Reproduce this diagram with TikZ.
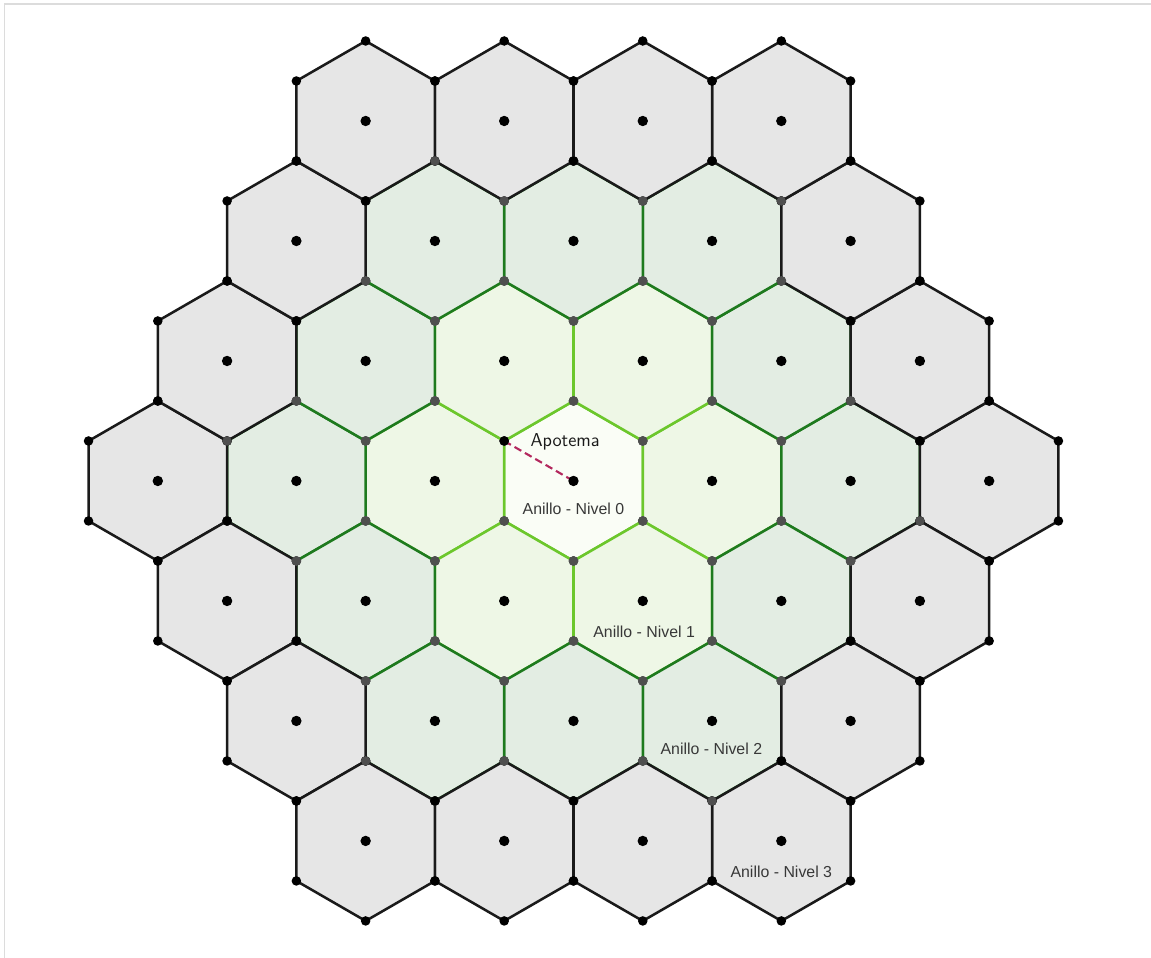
\documentclass[tikz,border=0pt]{standalone}
\usepackage{fontspec}
\newfontfamily\levelfont{Liberation Sans}
\definecolor{cellink}{HTML}{1A1A1A}
\definecolor{cornergrey}{HTML}{4F4F4F}
\definecolor{framegrey}{HTML}{DCDCDC}
\definecolor{ringzerofill}{HTML}{FAFDF6}
\definecolor{ringonefill}{HTML}{EEF7E6}
\definecolor{ringoneedge}{HTML}{6CC72C}
\definecolor{ringtwofill}{HTML}{E3EDE3}
\definecolor{ringtwoedge}{HTML}{1E7A1E}
\definecolor{ringthreefill}{HTML}{E6E6E6}
\definecolor{apothemred}{HTML}{B3285E}
\newcommand{\hexpath}{(0,1) -- (1,0.5) -- (1,-0.5) -- (0,-1) -- (-1,-0.5) -- (-1,0.5) -- cycle}
\newcommand{\hexcorners}{(0,1) circle (3.4pt) (1,0.5) circle (3.4pt) (1,-0.5) circle (3.4pt)
  (0,-1) circle (3.4pt) (-1,-0.5) circle (3.4pt) (-1,0.5) circle (3.4pt)}
\newcommand{\ringzero}{(0,0)}
\newcommand{\ringone}{(2,0),(-2,0),(1,1.5),(-1,1.5),(1,-1.5),(-1,-1.5)}
\newcommand{\ringtwo}{(4,0),(-4,0),(3,1.5),(-3,1.5),(3,-1.5),(-3,-1.5),(2,3),(0,3),(-2,3),(2,-3),(0,-3),(-2,-3)}
\newcommand{\ringthree}{(6,0),(-6,0),(5,1.5),(-5,1.5),(5,-1.5),(-5,-1.5),(4,3),(-4,3),(4,-3),(-4,-3),(3,4.5),(1,4.5),(-1,4.5),(-3,4.5),(3,-4.5),(1,-4.5),(-1,-4.5),(-3,-4.5)}
%% interior corners that are shown as free (black) points
\newcommand{\freecorners}{(0,4),(2,4),(-3,3.5),(-4,2),(4,2),(-1,0.5),(5,0.5),(-5,-0.5),(-4,-2),(4,-2),(3,-3.5),(-2,-4),(0,-4)}

\begin{document}
\begin{tikzpicture}[x=1.7321cm, y=2cm,
  cell/.style={line width=1.8pt, line join=round},
  cellzero/.style={cell, fill=ringzerofill, draw=ringoneedge},
  cellone/.style={cell, fill=ringonefill, draw=ringoneedge},
  celltwo/.style={cell, fill=ringtwofill, draw=ringtwoedge},
  cellthree/.style={cell, fill=ringthreefill, draw=cellink},
  levellabel/.style={text=black!78, font=\levelfont\fontsize{11.3}{13}\selectfont, inner sep=1pt},
  apotemalabel/.style={text=black!90, font=\sffamily\fontsize{13.3}{16}\selectfont, inner sep=1pt},
  apothem/.style={apothemred, line width=1.5pt, dash pattern=on 5.5pt off 3pt}]

  \useasboundingbox (-8.278,-5.9625) rectangle (8.336,6.0125);
  \draw[framegrey, line width=1.4pt] (-8.213,-5.9625) -- (-8.213,5.9625) -- (8.336,5.9625);

  %% cells, from the centre outwards
  \foreach \cellpos in \ringzero {\path[cellzero, shift={\cellpos}] \hexpath;}
  \foreach \cellpos in \ringone {\path[cellone, shift={\cellpos}] \hexpath;}
  \foreach \cellpos in \ringtwo {\path[celltwo, shift={\cellpos}] \hexpath;}
  \foreach \cellpos in \ringthree {\path[cellthree, shift={\cellpos}] \hexpath;}

  %% apothem
  \coordinate (apocorner) at (-1,0.5);
  \coordinate (apocentre) at (0,0);
  \draw[apothem] (apocorner) -- (apocentre);

  %% corner points
  \foreach \cellpos in \ringthree {\fill[black, shift={\cellpos}] \hexcorners;}
  \foreach \cellpos in \ringtwo {\fill[cornergrey, shift={\cellpos}] \hexcorners;}
  \foreach \cellpos in \ringone {\fill[cornergrey, shift={\cellpos}] \hexcorners;}
  \fill[cornergrey] \hexcorners;
  \foreach \cellpos in \freecorners {\fill[black] \cellpos circle (3.4pt);}

  %% centre points
  \foreach \cellpos in \ringthree {\fill[black] \cellpos circle (3.7pt);}
  \foreach \cellpos in \ringtwo {\fill[black] \cellpos circle (3.7pt);}
  \foreach \cellpos in \ringone {\fill[black] \cellpos circle (3.7pt);}
  \fill[black] (0,0) circle (3.7pt);

  %% labels
  \node[apotemalabel] (apotema) at (-0.12,0.49) {Apotema};
  \node[levellabel] (levelzero) at (0,-0.35) {Anillo - Nivel 0};
  \node[levellabel] (levelone) at (1.02,-1.88) {Anillo - Nivel 1};
  \node[levellabel] (leveltwo) at (1.99,-3.35) {Anillo - Nivel 2};
  \node[levellabel] (levelthree) at (3.0,-4.89) {Anillo - Nivel 3};

\end{tikzpicture}
\end{document}
